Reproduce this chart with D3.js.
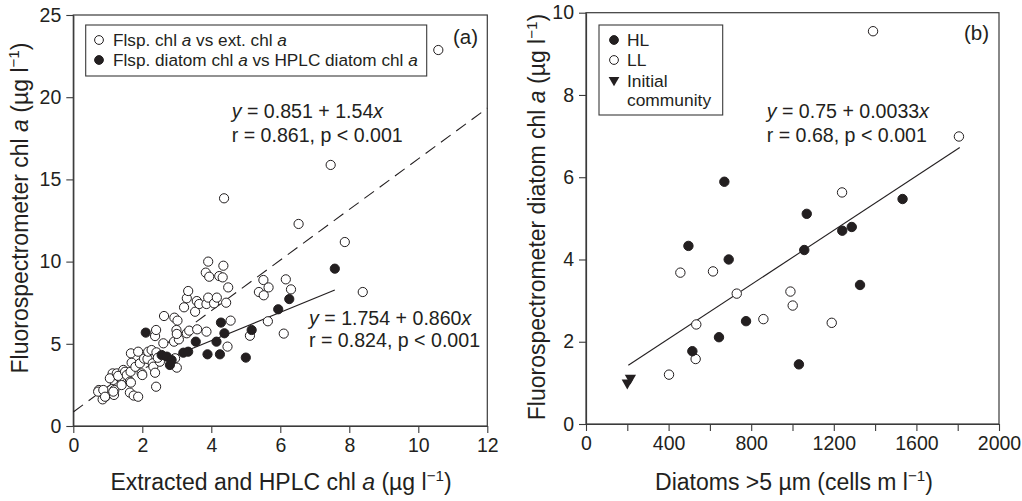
<!DOCTYPE html>
<html><head><meta charset="utf-8">
<script src="https://cdn.jsdelivr.net/npm/d3@7"></script>
<style>
body{margin:0;background:#fff}
svg{display:block}
text{font-family:"Liberation Sans",Arial,Helvetica,sans-serif;fill:#231f20}
</style>
</head><body>
<svg id="chart" width="1022" height="501"></svg>
<script>
// ---------- Panel (a) data ----------
const flspVsExtChl = [
 [0.74,2.19],[0.85,1.62],[0.95,1.82],[0.72,2.09],[0.87,2.19],[0.92,1.78],[1.19,2.19],[1.18,1.89],[1.16,2.09],
 [1.14,3.20],[1.16,2.80],[1.06,2.90],[1.26,3.20],[1.35,2.94],[1.40,2.49],[1.45,3.41],[1.30,3.05],[1.50,3.30],
 [1.55,3.10],[1.64,2.03],[1.64,2.70],[1.75,1.85],[1.88,1.78],[1.67,2.64],[1.66,3.30],[1.69,3.85],[1.67,4.42],
 [1.80,3.60],[1.88,4.52],[1.93,3.81],[1.98,3.20],[2.00,3.10],[2.05,4.10],[2.15,4.08],[2.17,4.52],[2.27,4.62],
 [2.30,3.81],[2.32,3.61],[2.37,3.24],[2.40,2.39],[2.41,4.48],[2.51,3.91],[2.45,4.15],[2.37,5.47],[2.40,5.84],
 [2.61,5.03],[2.63,6.69],[2.95,4.12],[3.00,3.55],[2.93,6.59],[3.02,6.41],[2.92,5.13],[3.06,5.27],[2.99,5.84],
 [3.00,5.60],[3.29,5.64],[3.36,5.80],[3.59,5.88],[3.86,5.74],[3.21,7.22],[3.29,7.77],[3.33,8.21],[3.53,6.95],
 [3.58,7.60],[3.65,7.42],[3.86,7.42],[3.91,7.81],[4.08,7.46],[4.16,7.81],[4.43,7.50],[4.49,8.43],[3.84,9.33],
 [3.94,9.08],[4.23,9.12],[4.33,9.04],[3.91,10.0],[4.35,9.75],[4.37,13.85],[4.47,4.83],[4.56,6.41],[5.12,5.49],
 [5.64,6.37],[6.10,5.62],[5.38,8.15],[5.52,7.95],[5.51,8.88],[5.66,8.43],[6.16,8.92],[6.31,8.31],[6.53,12.29],
 [7.46,15.88],[7.87,11.19],[8.39,8.15],[10.58,22.87]
];
const flspDiatomVsHplc = [
 [2.10,5.68],[2.56,4.32],[2.71,4.22],[2.85,4.01],[2.80,3.71],[3.19,4.46],[3.33,4.52],[3.55,5.13],[3.89,4.36],
 [4.25,4.36],[4.15,5.13],[4.28,6.29],[4.38,5.64],[5.00,4.16],[5.17,5.84],[5.94,7.10],[6.26,7.72],[7.58,9.57]
];
const fitExt = {intercept:0.851, slope:1.54, xmin:0, xmax:12};
const fitDiatom = {intercept:1.754, slope:0.860, xmin:2.10, xmax:7.58};
const ticksAx = [0,2,4,6,8,10,12];
const ticksAy = [0,5,10,15,20,25];

// ---------- Panel (b) data ----------
const diatomsHL = [
 [496,4.33],[670,5.89],[691,4.00],[515,1.77],[644,2.11],[775,2.50],[1069,5.11],[1057,4.23],[1031,1.45],
 [1241,4.70],[1287,4.79],[1327,3.38],[1533,5.47]
];
const diatomsLL = [
 [402,1.20],[531,1.58],[534,2.42],[457,3.68],[615,3.71],[730,3.17],[859,2.55],[990,3.22],[1001,2.88],
 [1190,2.46],[1240,5.63],[1390,9.55],[1806,6.99]
];
const initialCommunity = [[200,1.00],[215,1.12]];
const fitB = {intercept:0.75, slope:0.0033, xmin:205, xmax:1810};
const ticksBx = [0,200,400,600,800,1000,1200,1400,1600,1800,2000];
const ticksBxLabelled = [0,400,800,1200,1600,2000];
const ticksBy = [0,2,4,6,8,10];

const svg = d3.select("#chart");
const INK = "#231f20";
const AX = "#3a3a3a";
const TITLE_FS = "23px", TICK_FS = "19.5px", EQ_FS = "19.6px", LEG_FS = "17.2px";

function richText(sel, parts) {
  let lastSup = false;
  parts.forEach(([t, s]) => {
    const ts = sel.append("tspan").text(t);
    if (s === "i") ts.attr("font-style", "italic");
    if (s === "sup") { ts.attr("font-size", "0.66em").attr("dy", "-0.55em"); lastSup = true; }
    else if (lastSup) { ts.attr("dy", "0.363em"); lastSup = false; }
  });
}

function panel(cfg) {
  const g = svg.append("g");
  const x = d3.scaleLinear().domain(cfg.xd).range([cfg.L, cfg.R]);
  const y = d3.scaleLinear().domain(cfg.yd).range([cfg.B, cfg.T]);
  g.append("rect").attr("x", cfg.L).attr("y", cfg.T).attr("width", cfg.R - cfg.L).attr("height", cfg.B - cfg.T)
    .attr("fill", "none").attr("stroke", AX).attr("stroke-width", 1.2);
  const xa = d3.axisBottom(x).tickValues(cfg.xt).tickSize(7).tickPadding(5).tickSizeOuter(0)
    .tickFormat(cfg.xfmt || (d => d));
  const ya = d3.axisLeft(y).tickValues(cfg.yt).tickSize(7).tickPadding(5).tickSizeOuter(0).tickFormat(d => d);
  const gx = g.append("g").attr("transform", `translate(0,${cfg.B})`).call(xa);
  const gy = g.append("g").attr("transform", `translate(${cfg.L},0)`).call(ya);
  [gx, gy].forEach(a => {
    a.select(".domain").attr("stroke", AX).attr("stroke-width", 1.2);
    a.selectAll(".tick line").attr("stroke", AX).attr("stroke-width", 1.1);
    a.selectAll(".tick text").attr("fill", INK).style("font-size", TICK_FS)
      .style("font-family", '"Liberation Sans",Arial,sans-serif');
  });
  return {g, x, y};
}

// ================= Panel (a) =================
const A = panel({L:73.3, R:487.3, T:15, B:426, xd:[0,12], yd:[0,25], xt:ticksAx, yt:ticksAy});
A.g.append("line")
  .attr("x1", A.x(fitExt.xmin)).attr("y1", A.y(fitExt.intercept + fitExt.slope*fitExt.xmin))
  .attr("x2", A.x(fitExt.xmax)).attr("y2", A.y(fitExt.intercept + fitExt.slope*fitExt.xmax))
  .attr("stroke", INK).attr("stroke-width", 1.1).attr("stroke-dasharray", "12,7");
A.g.append("line")
  .attr("x1", A.x(fitDiatom.xmin)).attr("y1", A.y(fitDiatom.intercept + fitDiatom.slope*fitDiatom.xmin))
  .attr("x2", A.x(fitDiatom.xmax)).attr("y2", A.y(fitDiatom.intercept + fitDiatom.slope*fitDiatom.xmax))
  .attr("stroke", INK).attr("stroke-width", 1.1);
A.g.selectAll("circle.o").data(flspVsExtChl).join("circle").attr("class","o")
  .attr("cx", d => A.x(d[0])).attr("cy", d => A.y(d[1])).attr("r", 4.6)
  .attr("fill", "#fff").attr("stroke", INK).attr("stroke-width", 1);
A.g.selectAll("circle.f").data(flspDiatomVsHplc).join("circle").attr("class","f")
  .attr("cx", d => A.x(d[0])).attr("cy", d => A.y(d[1])).attr("r", 4.6)
  .attr("fill", INK).attr("stroke", INK).attr("stroke-width", 1);

// legend (a)
A.g.append("rect").attr("x", 85.7).attr("y", 25).attr("width", 341).attr("height", 51)
  .attr("fill", "#fff").attr("stroke", AX).attr("stroke-width", 1.1);
A.g.append("circle").attr("cx", 99).attr("cy", 40).attr("r", 4.4).attr("fill", "#fff").attr("stroke", INK);
A.g.append("circle").attr("cx", 99).attr("cy", 60).attr("r", 4.4).attr("fill", INK).attr("stroke", INK);
richText(A.g.append("text").attr("x", 113).attr("y", 46).style("font-size", LEG_FS),
  [["Flsp. chl ",""],["a","i"],[" vs ext. chl ",""],["a","i"]]);
richText(A.g.append("text").attr("x", 113).attr("y", 66).style("font-size", LEG_FS),
  [["Flsp. diatom chl ",""],["a","i"],[" vs HPLC diatom chl ",""],["a","i"]]);
A.g.append("text").attr("x", 478).attr("y", 43.5).attr("text-anchor", "end").style("font-size", "20.5px").text("(a)");

// equations (a)
richText(A.g.append("text").attr("x", 231.7).attr("y", 118.3).style("font-size", EQ_FS),
  [["y","i"],[" = 0.851 + 1.54",""],["x","i"]]);
A.g.append("text").attr("x", 231.7).attr("y", 141.7).style("font-size", EQ_FS).text("r = 0.861, p < 0.001");
richText(A.g.append("text").attr("x", 309).attr("y", 325).style("font-size", EQ_FS),
  [["y","i"],[" = 1.754 + 0.860",""],["x","i"]]);
A.g.append("text").attr("x", 309).attr("y", 347).style("font-size", EQ_FS).text("r = 0.824, p < 0.001");

// axis titles (a)
richText(svg.append("text").attr("x", 281).attr("y", 489.5).attr("text-anchor", "middle").style("font-size", TITLE_FS),
  [["Extracted and HPLC chl ",""],["a","i"],[" (µg l",""],["−1","sup"],[")",""]]);
richText(svg.append("text").attr("transform", "translate(27.5,208) rotate(-90)").attr("text-anchor", "middle").style("font-size", TITLE_FS),
  [["Fluorospectrometer chl ",""],["a","i"],[" (µg l",""],["−1","sup"],[")",""]]);

// ================= Panel (b) =================
const Bp = panel({L:586, R:999, T:12.7, B:424, xd:[0,2000], yd:[0,10], xt:ticksBx, yt:ticksBy,
  xfmt: d => ticksBxLabelled.includes(d) ? d : ""});
Bp.g.append("line")
  .attr("x1", Bp.x(fitB.xmin)).attr("y1", Bp.y(fitB.intercept + fitB.slope*fitB.xmin))
  .attr("x2", Bp.x(fitB.xmax)).attr("y2", Bp.y(fitB.intercept + fitB.slope*fitB.xmax))
  .attr("stroke", INK).attr("stroke-width", 1.1);
Bp.g.selectAll("circle.ll").data(diatomsLL).join("circle").attr("class","ll")
  .attr("cx", d => Bp.x(d[0])).attr("cy", d => Bp.y(d[1])).attr("r", 4.7)
  .attr("fill", "#fff").attr("stroke", INK).attr("stroke-width", 1);
Bp.g.selectAll("circle.hl").data(diatomsHL).join("circle").attr("class","hl")
  .attr("cx", d => Bp.x(d[0])).attr("cy", d => Bp.y(d[1])).attr("r", 4.7)
  .attr("fill", INK).attr("stroke", INK).attr("stroke-width", 1);
const tri = d3.symbol().type(d3.symbolTriangle).size(55);
Bp.g.selectAll("path.ini").data(initialCommunity).join("path").attr("class","ini")
  .attr("d", tri).attr("transform", d => `translate(${Bp.x(d[0])},${Bp.y(d[1])}) rotate(180)`)
  .attr("fill", INK);

// legend (b)
Bp.g.append("rect").attr("x", 599).attr("y", 25).attr("width", 123.7).attr("height", 90)
  .attr("fill", "#fff").attr("stroke", AX).attr("stroke-width", 1.1);
Bp.g.append("circle").attr("cx", 614).attr("cy", 40).attr("r", 4.4).attr("fill", INK).attr("stroke", INK);
Bp.g.append("circle").attr("cx", 614).attr("cy", 60).attr("r", 4.4).attr("fill", "#fff").attr("stroke", INK);
Bp.g.append("path").attr("d", d3.symbol().type(d3.symbolTriangle).size(50))
  .attr("transform", "translate(614,80) rotate(180)").attr("fill", INK);
[["HL",46],["LL",66],["Initial",86.5],["community",106]].forEach(([t,yy]) =>
  Bp.g.append("text").attr("x", 627).attr("y", yy).style("font-size", "17.4px").text(t));
Bp.g.append("text").attr("x", 989).attr("y", 39.5).attr("text-anchor", "end").style("font-size", "20.5px").text("(b)");

richText(Bp.g.append("text").attr("x", 766.7).attr("y", 118.3).style("font-size", EQ_FS),
  [["y","i"],[" = 0.75 + 0.0033",""],["x","i"]]);
Bp.g.append("text").attr("x", 766.7).attr("y", 141.7).style("font-size", EQ_FS).text("r = 0.68, p < 0.001");

richText(svg.append("text").attr("x", 794).attr("y", 489.5).attr("text-anchor", "middle").style("font-size", TITLE_FS),
  [["Diatoms >5 µm (cells m l",""],["−1","sup"],[")",""]]);
richText(svg.append("text").attr("transform", "translate(545,217) rotate(-90)").attr("text-anchor", "middle").style("font-size", TITLE_FS),
  [["Fluorospectrometer diatom chl ",""],["a","i"],[" (µg l",""],["−1","sup"],[")",""]]);
</script>
</body></html>
